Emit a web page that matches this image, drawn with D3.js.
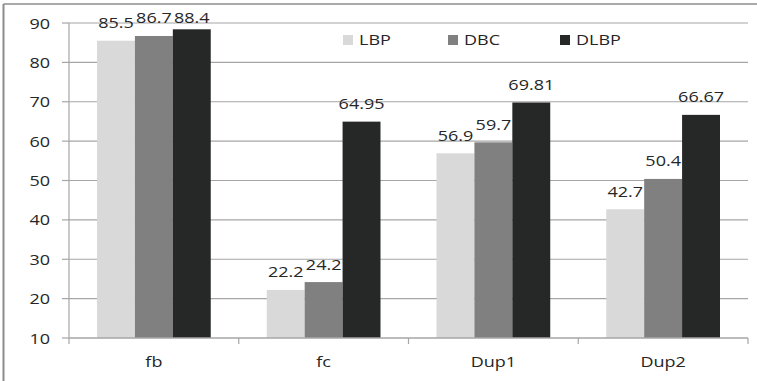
<!DOCTYPE html>
<html>
<head>
<meta charset="utf-8">
<script src="https://cdn.jsdelivr.net/npm/d3@7"></script>
<style>
  html, body { margin: 0; padding: 0; background: #fff; }
  svg { display: block; }
  text { font-family: "Open Sans", "DejaVu Sans", sans-serif; fill: #262626; }
</style>
</head>
<body>
<svg id="chart" width="757" height="381"></svg>
<script>
// Recognition rates per test set
const categories = ["fb", "fc", "Dup1", "Dup2"];
const seriesNames = ["LBP", "DBC", "DLBP"];
const lbpValues  = [85.5, 22.2, 56.9, 42.7];
const dbcValues  = [86.7, 24.2, 59.7, 50.4];
const dlbpValues = [88.4, 64.95, 69.81, 66.67];
const yTicks = [10, 20, 30, 40, 50, 60, 70, 80, 90];
const seriesColors = ["#d9d9d9", "#808080", "#262727"];

const seriesValues = [lbpValues, dbcValues, dlbpValues];
const rows = categories.map((c, i) => ({
  category: c,
  values: seriesNames.map((s, k) => ({ series: s, value: seriesValues[k][i] }))
}));

const svg = d3.select("#chart");
const W = 757, H = 381;
const plot = { left: 69, right: 748, top: 23, bottom: 338 };
const SX = 1.2; // horizontal text stretch
const fontSize = 15;

// outer frame
svg.append("line").attr("x1", 3.5).attr("x2", W).attr("y1", 4).attr("y2", 4)
  .attr("stroke", "#8c8c8c").attr("stroke-width", 1.5);
svg.append("line").attr("x1", 3.5).attr("x2", 3.5).attr("y1", 4).attr("y2", H)
  .attr("stroke", "#8c8c8c").attr("stroke-width", 2);

const x0 = d3.scaleBand().domain(categories).range([plot.left, plot.right])
  .paddingInner(0.33).paddingOuter(0.165);
const x1 = d3.scaleBand().domain(seriesNames).range([0, x0.bandwidth()]);
const y = d3.scaleLinear().domain([10, 90]).range([plot.bottom, plot.top]);
const color = d3.scaleOrdinal().domain(seriesNames).range(seriesColors);

// horizontal gridlines
svg.append("g").selectAll("line").data(yTicks.filter(t => t !== 10)).join("line")
  .attr("x1", plot.left).attr("x2", plot.right)
  .attr("y1", d => y(d)).attr("y2", d => y(d))
  .attr("stroke", "#a6a6a6").attr("stroke-width", 1.2);

// stretched text helper
function label(g, x, yy, str, anchor) {
  g.append("text")
    .attr("transform", `translate(${x},${yy}) scale(${SX},1)`)
    .attr("text-anchor", anchor)
    .attr("font-size", fontSize)
    .text(str);
}

// bars
const groups = svg.append("g").selectAll("g").data(rows).join("g")
  .attr("transform", d => `translate(${x0(d.category)},0)`);
groups.selectAll("rect").data(d => d.values).join("rect")
  .attr("x", d => x1(d.series))
  .attr("width", x1.bandwidth())
  .attr("y", d => y(d.value))
  .attr("height", d => y(10) - y(d.value))
  .attr("fill", d => color(d.series));

// value labels
const labelLayer = svg.append("g");
rows.forEach(r => {
  r.values.forEach(v => {
    const cx = x0(r.category) + x1(v.series) + x1.bandwidth() / 2;
    const by = Math.max(y(v.value) - 12.5, plot.top);
    label(labelLayer, cx, by, String(v.value), "middle");
  });
});

// y axis
const axisG = svg.append("g");
axisG.append("line").attr("x1", plot.left).attr("x2", plot.left)
  .attr("y1", plot.top).attr("y2", plot.bottom)
  .attr("stroke", "#a6a6a6").attr("stroke-width", 1.2);
yTicks.forEach(t => {
  axisG.append("line").attr("x1", plot.left - 7).attr("x2", plot.left)
    .attr("y1", y(t)).attr("y2", y(t)).attr("stroke", "#a6a6a6").attr("stroke-width", 1.2);
  label(axisG, 50, y(t) + 5.5, String(t), "end");
});

// x axis
axisG.append("line").attr("x1", plot.left).attr("x2", plot.right)
  .attr("y1", plot.bottom).attr("y2", plot.bottom)
  .attr("stroke", "#a6a6a6").attr("stroke-width", 1.5);
const step = x0.step();
d3.range(categories.length + 1).forEach(i => {
  const tx = plot.left + i * step;
  axisG.append("line").attr("x1", tx).attr("x2", tx)
    .attr("y1", plot.bottom).attr("y2", plot.bottom + 6)
    .attr("stroke", "#a6a6a6").attr("stroke-width", 1.2);
});
categories.forEach(c => {
  label(axisG, x0(c) + x0.bandwidth() / 2, 367, c, "middle");
});

// legend
const legendX = [343, 448, 560];
const legend = svg.append("g");
seriesNames.forEach((s, i) => {
  legend.append("rect").attr("x", legendX[i]).attr("y", 35).attr("width", 10).attr("height", 10)
    .attr("fill", color(s));
  label(legend, legendX[i] + 16, 45, s, "start");
});
</script>
</body>
</html>
